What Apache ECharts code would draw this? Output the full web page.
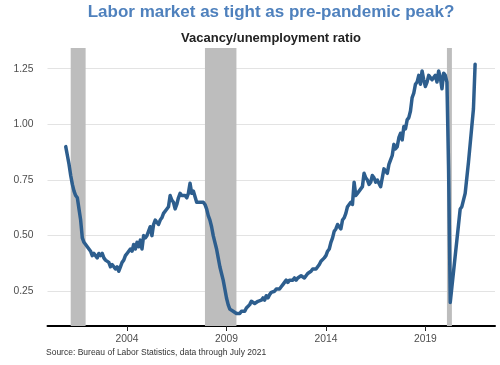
<!DOCTYPE html>
<html><head><meta charset="utf-8">
<script src="https://cdn.jsdelivr.net/npm/echarts@6/dist/echarts.min.js"></script>
<style>html,body{margin:0;padding:0;background:#fff}#c{width:500px;height:365px}</style>
</head><body><div id="c"></div>
<script>
// Monthly vacancy/unemployment ratio, Dec 2000 - Jul 2021
const v2000 = [0.90]; // Dec only
const v2001 = [0.86,0.82,0.77,0.73,0.70,0.68,0.67,0.62,0.57,0.49,0.47,0.46];
const v2002 = [0.45,0.44,0.43,0.41,0.42,0.41,0.40,0.42,0.41,0.42,0.40,0.39];
const v2003 = [0.39,0.38,0.36,0.37,0.36,0.35,0.36,0.34,0.36,0.38,0.39,0.41];
const v2004 = [0.42,0.43,0.44,0.43,0.46,0.44,0.47,0.45,0.48,0.44,0.50,0.49];
const v2005 = [0.50,0.50,0.54,0.50,0.55,0.57,0.56,0.55,0.57,0.58,0.60,0.60];
const v2006 = [0.62,0.63,0.68,0.66,0.65,0.62,0.64,0.67,0.69,0.68,0.68,0.68];
const v2007 = [0.67,0.69,0.735,0.69,0.70,0.70,0.65,0.65,0.65,0.645,0.65,0.64];
const v2008 = [0.62,0.59,0.57,0.54,0.50,0.47,0.44,0.40,0.36,0.33,0.30,0.26];
const v2009 = [0.22,0.19,0.17,0.17,0.16,0.16,0.15,0.155,0.15,0.16,0.165,0.16];
const v2010 = [0.175,0.18,0.19,0.205,0.20,0.195,0.20,0.205,0.20,0.21,0.22,0.21];
const v2011 = [0.23,0.22,0.235,0.245,0.24,0.25,0.26,0.255,0.26,0.27,0.28,0.28];
const v2012 = [0.30,0.29,0.30,0.295,0.30,0.31,0.30,0.31,0.31,0.32,0.315,0.31];
const v2013 = [0.32,0.33,0.33,0.34,0.35,0.345,0.35,0.36,0.37,0.385,0.39,0.40];
const v2014 = [0.41,0.43,0.44,0.47,0.49,0.52,0.53,0.55,0.54,0.53,0.57,0.58];
const v2015 = [0.60,0.63,0.64,0.65,0.64,0.74,0.68,0.69,0.70,0.71,0.72,0.78];
const v2016 = [0.76,0.75,0.73,0.74,0.77,0.76,0.74,0.75,0.75,0.72,0.76,0.80];
const v2017 = [0.79,0.78,0.82,0.84,0.86,0.91,0.89,0.90,0.94,0.96,0.93,0.99];
const v2018 = [0.98,1.02,1.03,1.06,1.12,1.14,1.18,1.19,1.22,1.18,1.24,1.20];
const v2019 = [1.17,1.19,1.22,1.21,1.20,1.21,1.22,1.19,1.24,1.21,1.16,1.23];
const v2020 = [1.22,1.19,0.80,0.20,0.27,0.34,0.41,0.48,0.55,0.62,0.63,0.63];
const v2021 = [0.69,0.76,0.83,0.91,0.99,1.07,1.27]; // through July

const firstObs = '2000-12';
const axisStart = [2000, 1];
const axisEnd = [2022, 7];
const xTickYears = [2004, 2009, 2014, 2019];
const yTicks = [0.25, 0.50, 0.75, 1.00, 1.25];
const recessions = [['2001-03','2001-12'], ['2007-12','2009-07'], ['2020-02','2020-05']];

const ratio = [].concat(v2000,v2001,v2002,v2003,v2004,v2005,v2006,v2007,v2008,v2009,v2010,
  v2011,v2012,v2013,v2014,v2015,v2016,v2017,v2018,v2019,v2020,v2021);

const months = [];
for (let y = axisStart[0], m = axisStart[1]; y < axisEnd[0] || (y === axisEnd[0] && m <= axisEnd[1]); ) {
  months.push(y + '-' + String(m).padStart(2,'0'));
  m++; if (m > 12) { m = 1; y++; }
}
const i0 = months.indexOf(firstObs);
const seriesData = ratio.map((v,i) => [months[i0+i], v]);
const isTick = (idx, val) => {
  const s = val || months[idx];
  return s.slice(5) === '01' && xTickYears.indexOf(+s.slice(0,4)) >= 0;
};

const FONT = 'Liberation Sans, Arial, sans-serif';
const chart = echarts.init(document.getElementById('c'), null, {renderer:'canvas'});
chart.setOption({
  animation: false,
  backgroundColor: '#fff',
  grid: {left: 47.5, right: 5, top: 48, bottom: 39, containLabel: false},
  graphic: [
    {type:'text', left: null, x: 271, y: 12, style:{text:'Labor market as tight as pre-pandemic peak?', fill:'#4f81bd', font:'bold 17px ' + FONT, textAlign:'center', textVerticalAlign:'middle'}},
    {type:'text', x: 271, y: 38.5, style:{text:'Vacancy/unemployment ratio', fill:'#222', font:'bold 13px ' + FONT, textAlign:'center', textVerticalAlign:'middle'}},
    {type:'text', x: 46, y: 353, style:{text:'Source: Bureau of Labor Statistics, data through July 2021', fill:'#333', font:'8.5px ' + FONT, textAlign:'left', textVerticalAlign:'middle'}}
  ],
  xAxis: {
    type: 'category', data: months, boundaryGap: false,
    axisLine: {show: true, onZero: false, lineStyle: {color: '#000', width: 2}},
    axisTick: {show: true, interval: isTick, length: 5, lineStyle: {color: '#222', width: 1}},
    axisLabel: {interval: isTick, formatter: v => v.slice(0,4), fontSize: 10.3, color: '#4d4d4d', fontFamily: FONT, margin: 8},
    splitLine: {show: false}
  },
  yAxis: {
    type: 'value', min: 0.094, max: 1.343,
    axisLine: {show: false},
    axisTick: {show: false, customValues: yTicks},
    axisLabel: {customValues: yTicks, formatter: v => v.toFixed(2), fontSize: 10.3, color: '#4d4d4d', fontFamily: FONT, margin: 14},
    splitLine: {show: true, lineStyle: {color: '#e3e3e3', width: 1}}
  },
  series: [{
    type: 'line', data: seriesData, showSymbol: false, symbol: 'none',
    lineStyle: {color: '#2d5e8e', width: 3.5, join: 'round', cap: 'round'},
    z: 3,
    markArea: {
      silent: true,
      itemStyle: {color: '#bdbdbd', opacity: 1},
      data: recessions.map(r => [{xAxis: r[0]}, {xAxis: r[1]}])
    }
  }]
});
</script>
</body></html>
